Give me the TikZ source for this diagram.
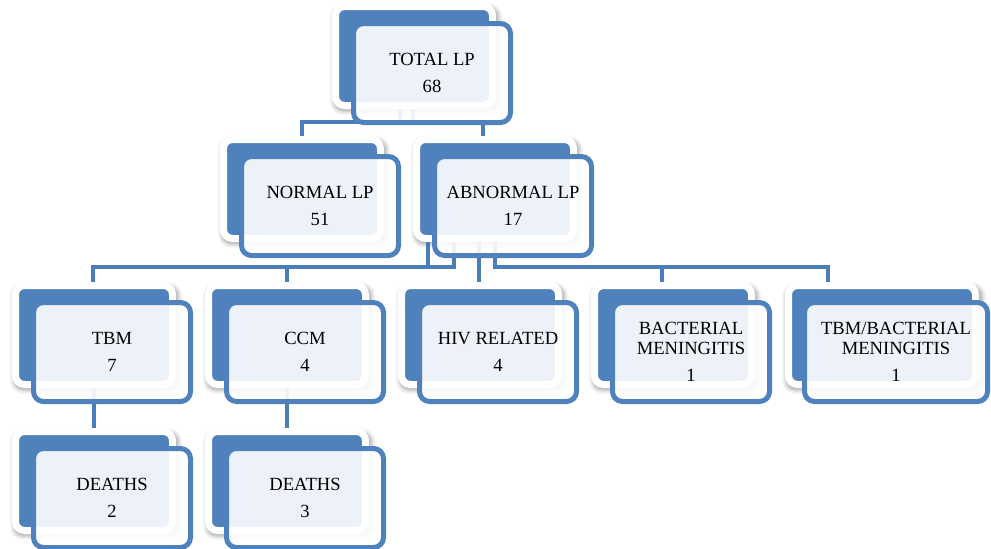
\documentclass[tikz,border=0pt]{standalone}
\usepackage{fontspec}
\setmainfont{Liberation Serif}
\usetikzlibrary{shadows.blur}
\definecolor{boxblue}{HTML}{4F81BD}
\definecolor{linkblue}{HTML}{4A7EBB}

\begin{document}
\begin{tikzpicture}[x=1pt,y=-1pt,
  backbox/.style={rectangle, rounded corners=9pt, fill=boxblue, draw=white,
    line width=7pt, minimum width=157pt, minimum height=99pt, inner sep=0pt,
    blur shadow={shadow xshift=2pt, shadow yshift=-3pt, shadow scale=1.05,
      shadow blur radius=4pt, shadow blur extra rounding=4pt, shadow opacity=35}},
  frontbox/.style={rectangle, rounded corners=10pt, fill=white, fill opacity=0.9,
    text opacity=1, draw=boxblue, line width=5pt, minimum width=157pt,
    minimum height=99pt, inner sep=0pt, align=center,
    font=\fontsize{18.6}{26.5}\selectfont},
  link/.style={draw=linkblue, line width=4.5pt}]
  \useasboundingbox (0,0) rectangle (991,549);

  % back boxes
  \node[backbox] (total-b) at (414,56) {};
  \node[backbox] (normal-b) at (302,189) {};
  \node[backbox] (abn-b) at (495,189) {};
  \node[backbox] (tbm-b) at (94,335) {};
  \node[backbox] (ccm-b) at (287,335) {};
  \node[backbox] (hiv-b) at (480,335) {};
  \node[backbox] (bac-b) at (673,335) {};
  \node[backbox, minimum width=187pt] (tbac-b) at (882,335) {};
  \node[backbox] (tbmd-b) at (94,481) {};
  \node[backbox] (ccmd-b) at (287,481) {};

  % TOTAL LP -> NORMAL / ABNORMAL
  \draw[link] ([xshift=-14pt]total-b.south) |- ([yshift=14pt]normal-b.north) -- (normal-b.north);
  \draw[link] ([xshift=-1pt]total-b.south) |- ([xshift=-12pt,yshift=14pt]abn-b.north) -- ([xshift=-12pt]abn-b.north);
  % ABNORMAL LP -> row 3
  \draw[link] ([xshift=-67pt]abn-b.south) |- ([xshift=-1pt,yshift=15pt]tbm-b.north) -- ([xshift=-1pt]tbm-b.north);
  \draw[link] ([xshift=-41pt]abn-b.south) |- ([yshift=15pt]ccm-b.north) -- (ccm-b.north);
  \draw[link] ([xshift=-16pt]abn-b.south) -- ([xshift=-1pt]hiv-b.north);
  \draw[link] (abn-b.south) |- ([xshift=-11pt,yshift=15pt]bac-b.north) -- ([xshift=-11pt]bac-b.north);
  \draw[link] (abn-b.south) |- ([xshift=-54pt,yshift=15pt]tbac-b.north) -- ([xshift=-54pt]tbac-b.north);
  % deaths
  \draw[link] (tbm-b.south) -- (tbmd-b.north);
  \draw[link] (ccm-b.south) -- (ccmd-b.north);

  % front boxes
  \node[frontbox] (total) at (432,73) {TOTAL LP\\68};
  \node[frontbox] (normal) at (320,206) {NORMAL LP\\51};
  \node[frontbox] (abn) at (513,206) {ABNORMAL LP\\17};
  \node[frontbox] (tbm) at (112,352) {TBM\\7};
  \node[frontbox] (ccm) at (305,352) {CCM\\4};
  \node[frontbox] (hiv) at (498,352) {HIV RELATED\\4};
  \node[frontbox] (bac) at (691,352) {BACTERIAL\\[-6.5pt]MENINGITIS\\1};
  \node[frontbox, minimum width=183pt] (tbac) at (896,352) {TBM/BACTERIAL\\[-6.5pt]MENINGITIS\\1};
  \node[frontbox] (tbmd) at (112,498) {DEATHS\\2};
  \node[frontbox] (ccmd) at (305,498) {DEATHS\\3};
\end{tikzpicture}
\end{document}
